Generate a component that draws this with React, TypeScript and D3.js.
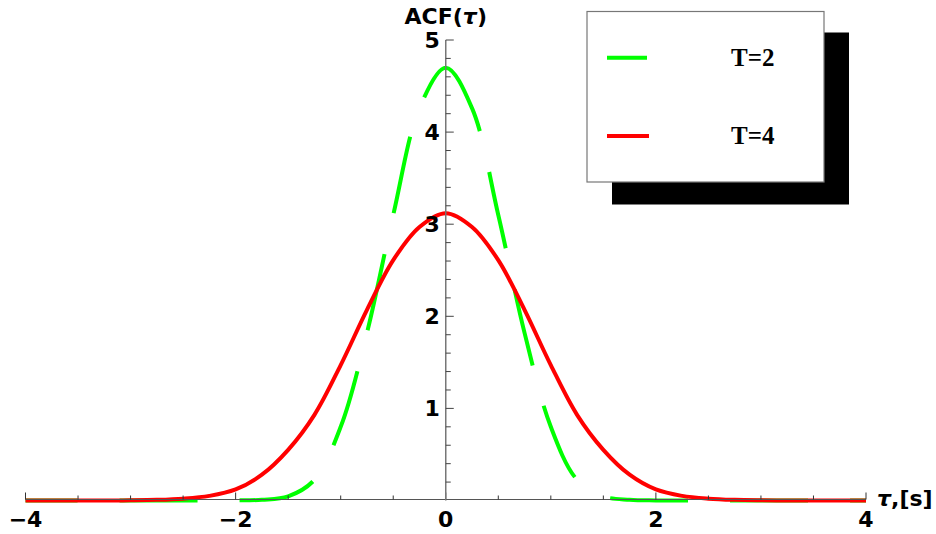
import React, { useLayoutEffect, useRef, useState } from "react";
import * as d3 from "d3";

// values
const tau = [
  -4, -3.75, -3.5, -3.25, -3, -2.75, -2.5, -2.25, -2, -1.75, -1.5, -1.25, -1, -0.75, -0.5, -0.25,
  0, 0.25, 0.5, 0.75, 1, 1.25, 1.5, 1.75, 2, 2.25, 2.5, 2.75, 3, 3.25, 3.5, 3.75, 4,
];
const acfT2 = [
  0, 0, 0, 0, 0, 0, 0, 0, 0.001, 0.008, 0.045, 0.225, 0.8, 1.82, 3.1, 4.26,
  4.7, 4.26, 3.1, 1.82, 0.8, 0.225, 0.045, 0.008, 0.001, 0, 0, 0, 0, 0, 0, 0, 0,
];
const acfT4 = [
  0, 0, 0, 0, 0.002, 0.007, 0.02, 0.05, 0.12, 0.28, 0.55, 0.93, 1.47, 2.07, 2.61, 2.97,
  3.12, 2.97, 2.61, 2.07, 1.47, 0.93, 0.55, 0.28, 0.12, 0.05, 0.02, 0.007, 0.002, 0, 0, 0, 0,
];
const seriesLabels = ["T=2", "T=4"];
const xTickLabels = [-4, -2, 0, 2, 4];
const yTickLabels = [1, 2, 3, 4, 5];

const GREEN = "#00ff00";
const RED = "#ff0000";
const DASH = 78;
const GAP = 42;

export default function App() {
  const x = d3.scaleLinear().domain([-4, 4]).range([25.5, 866]);
  const y = d3.scaleLinear().domain([0, 5]).range([500.5, 40]);
  const axisY = 499.5;
  const axisX = x(0);

  const line = d3
    .line<[number, number]>()
    .x((d) => x(d[0]))
    .y((d) => y(d[1]))
    .curve(d3.curveCatmullRom.alpha(0.5));

  const ptsT2 = tau.map((t, i) => [t, acfT2[i]] as [number, number]);
  const ptsT4 = tau.map((t, i) => [t, acfT4[i]] as [number, number]);
  const leftT2 = ptsT2.filter((d) => d[0] <= 0);

  const measureRef = useRef<SVGPathElement>(null);
  const [lpeak, setLpeak] = useState<number>(0);
  useLayoutEffect(() => {
    if (measureRef.current) setLpeak(measureRef.current.getTotalLength());
  }, []);
  const P = DASH + GAP;
  const mod = (a: number) => ((a % P) + P) % P;
  const offRight = mod(-lpeak + 3);
  const offLeft = mod(36.7 - lpeak);

  const xMinor = d3.range(-4, 4.001, 0.5);
  const yMinor = d3.range(0.2, 5.001, 0.2);

  const tickFont = "'DejaVu Sans', sans-serif";
  const dT2 = line(ptsT2) || "";

  return (
    <svg
      width={936}
      height={534}
      style={{ position: "absolute", left: 0, top: 0, background: "#fff" }}
    >
      <defs>
        <clipPath id="clipL">
          <rect x={0} y={0} width={axisX} height={534} />
        </clipPath>
        <clipPath id="clipR">
          <rect x={axisX} y={0} width={936 - axisX} height={534} />
        </clipPath>
      </defs>
      <rect x={0} y={0} width={936} height={534} fill="#fff" />
      <path ref={measureRef} d={line(leftT2) || ""} fill="none" stroke="none" />
      {/* curves */}
      <path
        d={dT2}
        fill="none"
        stroke={GREEN}
        strokeWidth={4}
        strokeDasharray={`${DASH} ${GAP}`}
        strokeDashoffset={offLeft}
        clipPath="url(#clipL)"
      />
      <path
        d={dT2}
        fill="none"
        stroke={GREEN}
        strokeWidth={4}
        strokeDasharray={`${DASH} ${GAP}`}
        strokeDashoffset={offRight}
        clipPath="url(#clipR)"
      />
      <path d={line(ptsT4) || ""} fill="none" stroke={RED} strokeWidth={4} />

      {/* x axis */}
      <line x1={x(-4)} x2={x(4)} y1={axisY} y2={axisY} stroke="#555" strokeWidth={1.2} />
      {xMinor.map((t) => {
        const major = Math.abs(t % 2) < 1e-6;
        return (
          <line
            key={"xt" + t}
            x1={x(t)}
            x2={x(t)}
            y1={axisY}
            y2={axisY - (major ? 7 : 4)}
            stroke="#333"
            strokeWidth={1}
          />
        );
      })}
      {xTickLabels.map((t) => (
        <text
          key={"xl" + t}
          x={x(t)}
          y={526.5}
          textAnchor="middle"
          fontFamily={tickFont}
          fontWeight="bold"
          fontSize={22}
          fill="#000"
        >
          {t < 0 ? "\u2212" + Math.abs(t) : String(t)}
        </text>
      ))}
      <text x={877} y={506} fontFamily={tickFont} fontWeight="bold" fontSize={22} fill="#000">
        <tspan fontStyle="italic">τ</tspan>,[s]
      </text>

      {/* y axis */}
      <line x1={axisX} x2={axisX} y1={y(0)} y2={y(5)} stroke="#777" strokeWidth={1.5} />
      {yMinor.map((v) => {
        const major = Math.abs(v - Math.round(v)) < 1e-6;
        return (
          <line
            key={"yt" + v.toFixed(1)}
            x1={axisX}
            x2={axisX + (major ? 8 : 5)}
            y1={y(v)}
            y2={y(v)}
            stroke="#444"
            strokeWidth={1}
          />
        );
      })}
      {yTickLabels.map((v) => (
        <text
          key={"yl" + v}
          x={axisX - 6}
          y={y(v)}
          dy="0.36em"
          textAnchor="end"
          fontFamily={tickFont}
          fontWeight="bold"
          fontSize={22}
          fill="#000"
        >
          {String(v)}
        </text>
      ))}
      <text
        x={axisX}
        y={24}
        textAnchor="middle"
        fontFamily={tickFont}
        fontWeight="bold"
        fontSize={22}
        fill="#000"
      >
        ACF(<tspan fontStyle="italic">τ</tspan>)
      </text>

      {/* legend */}
      <rect x={612} y={32.5} width={237} height={172} fill="#000" />
      <rect x={587} y={11.5} width={237} height={170.5} fill="#fff" stroke="#777" strokeWidth={1.2} />
      <line x1={607} x2={647} y1={57.7} y2={57.7} stroke={GREEN} strokeWidth={4} />
      <line x1={607} x2={649} y1={136} y2={136} stroke={RED} strokeWidth={4} />
      <text
        x={731}
        y={66}
        fontFamily="'Liberation Serif', serif"
        fontWeight="bold"
        fontSize={25}
        fill="#000"
      >
        {seriesLabels[0]}
      </text>
      <text
        x={731}
        y={144.3}
        fontFamily="'Liberation Serif', serif"
        fontWeight="bold"
        fontSize={25}
        fill="#000"
      >
        {seriesLabels[1]}
      </text>
    </svg>
  );
}
